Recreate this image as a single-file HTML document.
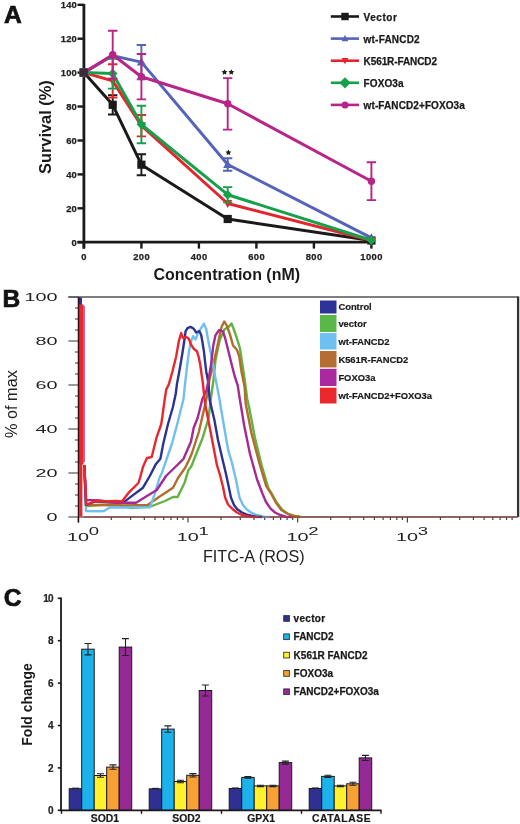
<!DOCTYPE html>
<html><head><meta charset="utf-8"><title>Figure</title>
<style>html,body{margin:0;padding:0;background:#fff;} body{width:520px;height:824px;overflow:hidden;font-family:"Liberation Sans",sans-serif;} svg{display:block;will-change:transform;filter:blur(0.25px);}</style>
</head><body>
<svg width="520" height="824" viewBox="0 0 520 824"><text x="3.9" y="22.9" font-family="Liberation Sans, sans-serif" font-weight="bold" font-size="24.6" fill="#111" stroke="#111" stroke-width="0.7">A</text>
<text transform="translate(50.6,127.1) rotate(-90)" text-anchor="middle" font-family="Liberation Sans, sans-serif" font-weight="bold" font-size="16.4" fill="#1a1a1a">Survival (%)</text>
<line x1="83.9" y1="4" x2="83.9" y2="248.6" stroke="#1a1a1a" stroke-width="2.8"/>
<line x1="77.5" y1="242.2" x2="372.9" y2="242.2" stroke="#1a1a1a" stroke-width="2.8"/>
<line x1="77.5" y1="242.2" x2="83.9" y2="242.2" stroke="#1a1a1a" stroke-width="2.4"/>
<text x="76.8" y="245.5" text-anchor="end" font-family="Liberation Sans, sans-serif" font-weight="bold" font-size="9.4" letter-spacing="0.1" fill="#222" stroke="#222" stroke-width="0.25">0</text>
<line x1="77.5" y1="208.3" x2="83.9" y2="208.3" stroke="#1a1a1a" stroke-width="2.4"/>
<text x="76.8" y="211.6" text-anchor="end" font-family="Liberation Sans, sans-serif" font-weight="bold" font-size="9.4" letter-spacing="0.1" fill="#222" stroke="#222" stroke-width="0.25">20</text>
<line x1="77.5" y1="174.4" x2="83.9" y2="174.4" stroke="#1a1a1a" stroke-width="2.4"/>
<text x="76.8" y="177.7" text-anchor="end" font-family="Liberation Sans, sans-serif" font-weight="bold" font-size="9.4" letter-spacing="0.1" fill="#222" stroke="#222" stroke-width="0.25">40</text>
<line x1="77.5" y1="140.5" x2="83.9" y2="140.5" stroke="#1a1a1a" stroke-width="2.4"/>
<text x="76.8" y="143.8" text-anchor="end" font-family="Liberation Sans, sans-serif" font-weight="bold" font-size="9.4" letter-spacing="0.1" fill="#222" stroke="#222" stroke-width="0.25">60</text>
<line x1="77.5" y1="106.5" x2="83.9" y2="106.5" stroke="#1a1a1a" stroke-width="2.4"/>
<text x="76.8" y="109.8" text-anchor="end" font-family="Liberation Sans, sans-serif" font-weight="bold" font-size="9.4" letter-spacing="0.1" fill="#222" stroke="#222" stroke-width="0.25">80</text>
<line x1="77.5" y1="72.6" x2="83.9" y2="72.6" stroke="#1a1a1a" stroke-width="2.4"/>
<text x="76.8" y="75.9" text-anchor="end" font-family="Liberation Sans, sans-serif" font-weight="bold" font-size="9.4" letter-spacing="0.1" fill="#222" stroke="#222" stroke-width="0.25">100</text>
<line x1="77.5" y1="38.7" x2="83.9" y2="38.7" stroke="#1a1a1a" stroke-width="2.4"/>
<text x="76.8" y="42.0" text-anchor="end" font-family="Liberation Sans, sans-serif" font-weight="bold" font-size="9.4" letter-spacing="0.1" fill="#222" stroke="#222" stroke-width="0.25">120</text>
<line x1="77.5" y1="4.8" x2="83.9" y2="4.8" stroke="#1a1a1a" stroke-width="2.4"/>
<text x="76.8" y="8.1" text-anchor="end" font-family="Liberation Sans, sans-serif" font-weight="bold" font-size="9.4" letter-spacing="0.1" fill="#222" stroke="#222" stroke-width="0.25">140</text>
<line x1="83.9" y1="242.2" x2="83.9" y2="248.6" stroke="#1a1a1a" stroke-width="2.4"/>
<text x="84.1" y="259.5" text-anchor="middle" font-family="Liberation Sans, sans-serif" font-weight="bold" font-size="9.4" letter-spacing="0.4" fill="#222" stroke="#222" stroke-width="0.25">0</text>
<line x1="141.4" y1="242.2" x2="141.4" y2="248.6" stroke="#1a1a1a" stroke-width="2.4"/>
<text x="141.6" y="259.5" text-anchor="middle" font-family="Liberation Sans, sans-serif" font-weight="bold" font-size="9.4" letter-spacing="0.4" fill="#222" stroke="#222" stroke-width="0.25">200</text>
<line x1="198.9" y1="242.2" x2="198.9" y2="248.6" stroke="#1a1a1a" stroke-width="2.4"/>
<text x="199.1" y="259.5" text-anchor="middle" font-family="Liberation Sans, sans-serif" font-weight="bold" font-size="9.4" letter-spacing="0.4" fill="#222" stroke="#222" stroke-width="0.25">400</text>
<line x1="256.4" y1="242.2" x2="256.4" y2="248.6" stroke="#1a1a1a" stroke-width="2.4"/>
<text x="256.6" y="259.5" text-anchor="middle" font-family="Liberation Sans, sans-serif" font-weight="bold" font-size="9.4" letter-spacing="0.4" fill="#222" stroke="#222" stroke-width="0.25">600</text>
<line x1="313.9" y1="242.2" x2="313.9" y2="248.6" stroke="#1a1a1a" stroke-width="2.4"/>
<text x="314.1" y="259.5" text-anchor="middle" font-family="Liberation Sans, sans-serif" font-weight="bold" font-size="9.4" letter-spacing="0.4" fill="#222" stroke="#222" stroke-width="0.25">800</text>
<line x1="371.4" y1="242.2" x2="371.4" y2="248.6" stroke="#1a1a1a" stroke-width="2.4"/>
<text x="371.6" y="259.5" text-anchor="middle" font-family="Liberation Sans, sans-serif" font-weight="bold" font-size="9.4" letter-spacing="0.4" fill="#222" stroke="#222" stroke-width="0.25">1000</text>
<text x="226.8" y="280.2" text-anchor="middle" font-family="Liberation Sans, sans-serif" font-weight="bold" font-size="16" fill="#1a1a1a">Concentration (nM)</text>
<polyline points="83.9,72.6 112.7,104.8 141.4,164.7 227.7,219.0 371.4,240.5" fill="none" stroke="#1a1a1a" stroke-width="3.0" stroke-linejoin="round"/>
<path d="M112.7,95.2V114.5M108.0,95.2H117.4M108.0,114.5H117.4" stroke="#1a1a1a" stroke-width="1.9" fill="none"/>
<path d="M141.4,154.2V175.2M136.7,154.2H146.1M136.7,175.2H146.1" stroke="#1a1a1a" stroke-width="1.9" fill="none"/>
<rect x="79.8" y="68.5" width="8.2" height="8.2" fill="#1a1a1a"/>
<rect x="108.6" y="100.7" width="8.2" height="8.2" fill="#1a1a1a"/>
<rect x="137.3" y="160.6" width="8.2" height="8.2" fill="#1a1a1a"/>
<rect x="223.6" y="214.9" width="8.2" height="8.2" fill="#1a1a1a"/>
<rect x="367.3" y="236.4" width="8.2" height="8.2" fill="#1a1a1a"/>
<polyline points="83.9,72.6 112.7,55.7 141.4,62.1 227.7,164.5 371.4,237.8" fill="none" stroke="#5563b8" stroke-width="3.0" stroke-linejoin="round"/>
<path d="M141.4,45.0V79.2M136.7,45.0H146.1M136.7,79.2H146.1" stroke="#5563b8" stroke-width="1.9" fill="none"/>
<path d="M227.7,158.3V170.8M223.0,158.3H232.3M223.0,170.8H232.3" stroke="#5563b8" stroke-width="1.9" fill="none"/>
<path d="M83.9,68.0 L88.5,76.1 L79.3,76.1Z" fill="#5563b8"/>
<path d="M112.7,51.1 L117.2,59.1 L108.1,59.1Z" fill="#5563b8"/>
<path d="M141.4,57.5 L146.0,65.6 L136.8,65.6Z" fill="#5563b8"/>
<path d="M227.7,159.9 L232.2,168.0 L223.1,168.0Z" fill="#5563b8"/>
<path d="M371.4,233.2 L376.0,241.2 L366.8,241.2Z" fill="#5563b8"/>
<polyline points="83.9,72.6 112.7,80.9 141.4,125.7 227.7,203.5 371.4,240.5" fill="none" stroke="#e4262c" stroke-width="3.0" stroke-linejoin="round"/>
<path d="M112.7,64.3V97.6M108.0,64.3H117.4M108.0,97.6H117.4" stroke="#e4262c" stroke-width="1.9" fill="none"/>
<path d="M141.4,115.0V136.4M136.7,115.0H146.1M136.7,136.4H146.1" stroke="#e4262c" stroke-width="1.9" fill="none"/>
<path d="M83.9,77.2 L88.5,69.2 L79.3,69.2Z" fill="#e4262c"/>
<path d="M112.7,85.5 L117.2,77.5 L108.1,77.5Z" fill="#e4262c"/>
<path d="M141.4,130.3 L146.0,122.3 L136.8,122.3Z" fill="#e4262c"/>
<path d="M227.7,208.1 L232.2,200.1 L223.1,200.1Z" fill="#e4262c"/>
<path d="M371.4,245.1 L376.0,237.1 L366.8,237.1Z" fill="#e4262c"/>
<polyline points="83.9,72.6 112.7,73.6 141.4,124.5 227.7,194.7 371.4,240.2" fill="none" stroke="#17a04a" stroke-width="3.0" stroke-linejoin="round"/>
<path d="M112.7,58.7V88.6M108.0,58.7H117.4M108.0,88.6H117.4" stroke="#17a04a" stroke-width="1.9" fill="none"/>
<path d="M141.4,105.7V143.3M136.7,105.7H146.1M136.7,143.3H146.1" stroke="#17a04a" stroke-width="1.9" fill="none"/>
<path d="M227.7,187.1V202.4M223.0,187.1H232.3M223.0,202.4H232.3" stroke="#17a04a" stroke-width="1.9" fill="none"/>
<path d="M83.9,67.8 L88.7,72.6 L83.9,77.4 L79.1,72.6Z" fill="#17a04a"/>
<path d="M112.7,68.8 L117.5,73.6 L112.7,78.4 L107.9,73.6Z" fill="#17a04a"/>
<path d="M141.4,119.7 L146.2,124.5 L141.4,129.3 L136.6,124.5Z" fill="#17a04a"/>
<path d="M227.7,189.9 L232.5,194.7 L227.7,199.5 L222.8,194.7Z" fill="#17a04a"/>
<path d="M371.4,235.4 L376.2,240.2 L371.4,245.0 L366.6,240.2Z" fill="#17a04a"/>
<polyline points="83.9,72.6 112.7,54.8 141.4,76.7 227.7,103.8 371.4,181.2" fill="none" stroke="#b82488" stroke-width="3.0" stroke-linejoin="round"/>
<path d="M112.7,30.7V78.9M108.0,30.7H117.4M108.0,78.9H117.4" stroke="#b82488" stroke-width="1.9" fill="none"/>
<path d="M141.4,54.0V99.4M136.7,54.0H146.1M136.7,99.4H146.1" stroke="#b82488" stroke-width="1.9" fill="none"/>
<path d="M227.7,78.1V129.6M223.0,78.1H232.3M223.0,129.6H232.3" stroke="#b82488" stroke-width="1.9" fill="none"/>
<path d="M371.4,162.2V200.1M366.7,162.2H376.1M366.7,200.1H376.1" stroke="#b82488" stroke-width="1.9" fill="none"/>
<circle cx="83.9" cy="72.6" r="3.7" fill="#b82488"/>
<circle cx="112.7" cy="54.8" r="3.7" fill="#b82488"/>
<circle cx="141.4" cy="76.7" r="3.7" fill="#b82488"/>
<circle cx="227.7" cy="103.8" r="3.7" fill="#b82488"/>
<circle cx="371.4" cy="181.2" r="3.7" fill="#b82488"/>
<rect x="79.4" y="68.4" width="8.4" height="8.2" fill="#3d2a3c"/>
<polygon points="224.50,69.20 225.41,71.05 227.45,71.34 225.97,72.78 226.32,74.81 224.50,73.85 222.68,74.81 223.03,72.78 221.55,71.34 223.59,71.05" fill="#1e1e1e"/>
<polygon points="231.30,69.20 232.21,71.05 234.25,71.34 232.77,72.78 233.12,74.81 231.30,73.85 229.48,74.81 229.83,72.78 228.35,71.34 230.39,71.05" fill="#1e1e1e"/>
<polygon points="228.40,149.50 229.31,151.35 231.35,151.64 229.87,153.08 230.22,155.11 228.40,154.15 226.58,155.11 226.93,153.08 225.45,151.64 227.49,151.35" fill="#1e1e1e"/>
<line x1="330.8" y1="16.5" x2="359" y2="16.5" stroke="#1a1a1a" stroke-width="2.6"/>
<rect x="341.3" y="12.8" width="7.4" height="7.4" fill="#1a1a1a"/>
<text x="363.6" y="21.0" font-family="Liberation Sans, sans-serif" font-weight="bold" font-size="10" letter-spacing="0.55" fill="#1a1a1a" stroke="#1a1a1a" stroke-width="0.25">Vector</text>
<line x1="330.8" y1="38.6" x2="359" y2="38.6" stroke="#5563b8" stroke-width="2.6"/>
<path d="M345.0,35.1 L348.4,41.2 L341.6,41.2Z" fill="#5563b8"/>
<text x="363.6" y="43.1" font-family="Liberation Sans, sans-serif" font-weight="bold" font-size="10" letter-spacing="0.2" fill="#1a1a1a" stroke="#1a1a1a" stroke-width="0.25">wt-FANCD2</text>
<line x1="330.8" y1="60.7" x2="359" y2="60.7" stroke="#e4262c" stroke-width="2.6"/>
<path d="M345.0,64.2 L348.4,58.1 L341.6,58.1Z" fill="#e4262c"/>
<text x="363.6" y="65.2" font-family="Liberation Sans, sans-serif" font-weight="bold" font-size="10" letter-spacing="-0.1" fill="#1a1a1a" stroke="#1a1a1a" stroke-width="0.25">K561R-FANCD2</text>
<line x1="330.8" y1="82.8" x2="359" y2="82.8" stroke="#17a04a" stroke-width="2.6"/>
<path d="M345.0,77.2 L350.6,82.8 L345.0,88.4 L339.4,82.8Z" fill="#17a04a"/>
<text x="363.6" y="87.3" font-family="Liberation Sans, sans-serif" font-weight="bold" font-size="10" letter-spacing="0.1" fill="#1a1a1a" stroke="#1a1a1a" stroke-width="0.25">FOXO3a</text>
<line x1="330.8" y1="104.9" x2="359" y2="104.9" stroke="#b82488" stroke-width="2.6"/>
<circle cx="345.0" cy="104.9" r="3.5" fill="#b82488"/>
<text x="363.6" y="109.4" font-family="Liberation Sans, sans-serif" font-weight="bold" font-size="10" letter-spacing="0.1" fill="#1a1a1a" stroke="#1a1a1a" stroke-width="0.25">wt-FANCD2+FOXO3a</text>
<text x="2.6" y="307.2" font-family="Liberation Sans, sans-serif" font-weight="bold" font-size="24.6" fill="#111" stroke="#111" stroke-width="0.7">B</text>
<text transform="translate(17.0,404.1) rotate(-90)" text-anchor="middle" font-family="Liberation Sans, sans-serif" font-size="16.3" fill="#222">% of max</text>
<text x="253.8" y="562.3" text-anchor="middle" font-family="Liberation Sans, sans-serif" font-size="16.2" fill="#222">FITC-A (ROS)</text>
<line x1="68.3" y1="297" x2="517.7" y2="297" stroke="#555" stroke-width="1.3"/>
<line x1="518.1" y1="296.4" x2="518.1" y2="517" stroke="#333" stroke-width="2.3"/>
<line x1="78.5" y1="517" x2="517.7" y2="517" stroke="#666" stroke-width="1.3"/>
<line x1="68.4" y1="517.0" x2="78.5" y2="517.0" stroke="#555" stroke-width="1.2"/>
<text transform="translate(57.4,520.8) scale(1.8,1)" text-anchor="end" font-family="Liberation Sans, sans-serif" font-size="11" fill="#222">0</text>
<line x1="75" y1="506.0" x2="78.5" y2="506.0" stroke="#555" stroke-width="1.2"/>
<line x1="75" y1="495.0" x2="78.5" y2="495.0" stroke="#555" stroke-width="1.2"/>
<line x1="75" y1="484.0" x2="78.5" y2="484.0" stroke="#555" stroke-width="1.2"/>
<line x1="68.4" y1="473.0" x2="78.5" y2="473.0" stroke="#555" stroke-width="1.2"/>
<text transform="translate(57.4,476.8) scale(1.8,1)" text-anchor="end" font-family="Liberation Sans, sans-serif" font-size="11" fill="#222">20</text>
<line x1="75" y1="462.0" x2="78.5" y2="462.0" stroke="#555" stroke-width="1.2"/>
<line x1="75" y1="451.0" x2="78.5" y2="451.0" stroke="#555" stroke-width="1.2"/>
<line x1="75" y1="440.0" x2="78.5" y2="440.0" stroke="#555" stroke-width="1.2"/>
<line x1="68.4" y1="429.0" x2="78.5" y2="429.0" stroke="#555" stroke-width="1.2"/>
<text transform="translate(57.4,432.8) scale(1.8,1)" text-anchor="end" font-family="Liberation Sans, sans-serif" font-size="11" fill="#222">40</text>
<line x1="75" y1="418.0" x2="78.5" y2="418.0" stroke="#555" stroke-width="1.2"/>
<line x1="75" y1="407.0" x2="78.5" y2="407.0" stroke="#555" stroke-width="1.2"/>
<line x1="75" y1="396.0" x2="78.5" y2="396.0" stroke="#555" stroke-width="1.2"/>
<line x1="68.4" y1="385.0" x2="78.5" y2="385.0" stroke="#555" stroke-width="1.2"/>
<text transform="translate(57.4,388.8) scale(1.8,1)" text-anchor="end" font-family="Liberation Sans, sans-serif" font-size="11" fill="#222">60</text>
<line x1="75" y1="374.0" x2="78.5" y2="374.0" stroke="#555" stroke-width="1.2"/>
<line x1="75" y1="363.0" x2="78.5" y2="363.0" stroke="#555" stroke-width="1.2"/>
<line x1="75" y1="352.0" x2="78.5" y2="352.0" stroke="#555" stroke-width="1.2"/>
<line x1="68.4" y1="341.0" x2="78.5" y2="341.0" stroke="#555" stroke-width="1.2"/>
<text transform="translate(57.4,344.8) scale(1.8,1)" text-anchor="end" font-family="Liberation Sans, sans-serif" font-size="11" fill="#222">80</text>
<line x1="75" y1="330.0" x2="78.5" y2="330.0" stroke="#555" stroke-width="1.2"/>
<line x1="75" y1="319.0" x2="78.5" y2="319.0" stroke="#555" stroke-width="1.2"/>
<line x1="75" y1="308.0" x2="78.5" y2="308.0" stroke="#555" stroke-width="1.2"/>
<line x1="68.4" y1="297.0" x2="78.5" y2="297.0" stroke="#555" stroke-width="1.2"/>
<text transform="translate(57.4,300.8) scale(1.8,1)" text-anchor="end" font-family="Liberation Sans, sans-serif" font-size="11" fill="#222">100</text>
<line x1="78.3" y1="517" x2="78.3" y2="522.5" stroke="#444" stroke-width="1.2"/>
<line x1="111.3" y1="517" x2="111.3" y2="520" stroke="#444" stroke-width="1.2"/>
<line x1="130.6" y1="517" x2="130.6" y2="520" stroke="#444" stroke-width="1.2"/>
<line x1="144.3" y1="517" x2="144.3" y2="520" stroke="#444" stroke-width="1.2"/>
<line x1="155.0" y1="517" x2="155.0" y2="520" stroke="#444" stroke-width="1.2"/>
<line x1="163.7" y1="517" x2="163.7" y2="520" stroke="#444" stroke-width="1.2"/>
<line x1="171.0" y1="517" x2="171.0" y2="520" stroke="#444" stroke-width="1.2"/>
<line x1="177.4" y1="517" x2="177.4" y2="520" stroke="#444" stroke-width="1.2"/>
<line x1="183.0" y1="517" x2="183.0" y2="520" stroke="#444" stroke-width="1.2"/>
<text transform="translate(78.0,541.4) scale(1.8,1)" text-anchor="middle" font-family="Liberation Sans, sans-serif" font-size="11" fill="#222">10</text>
<text transform="translate(93.9,534.5) scale(1.8,1)" text-anchor="middle" font-family="Liberation Sans, sans-serif" font-size="10.3" fill="#222">0</text>
<line x1="188.0" y1="517" x2="188.0" y2="522.5" stroke="#444" stroke-width="1.2"/>
<line x1="221.0" y1="517" x2="221.0" y2="520" stroke="#444" stroke-width="1.2"/>
<line x1="240.3" y1="517" x2="240.3" y2="520" stroke="#444" stroke-width="1.2"/>
<line x1="254.0" y1="517" x2="254.0" y2="520" stroke="#444" stroke-width="1.2"/>
<line x1="264.7" y1="517" x2="264.7" y2="520" stroke="#444" stroke-width="1.2"/>
<line x1="273.4" y1="517" x2="273.4" y2="520" stroke="#444" stroke-width="1.2"/>
<line x1="280.7" y1="517" x2="280.7" y2="520" stroke="#444" stroke-width="1.2"/>
<line x1="287.1" y1="517" x2="287.1" y2="520" stroke="#444" stroke-width="1.2"/>
<line x1="292.7" y1="517" x2="292.7" y2="520" stroke="#444" stroke-width="1.2"/>
<text transform="translate(187.7,541.4) scale(1.8,1)" text-anchor="middle" font-family="Liberation Sans, sans-serif" font-size="11" fill="#222">10</text>
<text transform="translate(203.6,534.5) scale(1.8,1)" text-anchor="middle" font-family="Liberation Sans, sans-serif" font-size="10.3" fill="#222">1</text>
<line x1="297.7" y1="517" x2="297.7" y2="522.5" stroke="#444" stroke-width="1.2"/>
<line x1="330.7" y1="517" x2="330.7" y2="520" stroke="#444" stroke-width="1.2"/>
<line x1="350.0" y1="517" x2="350.0" y2="520" stroke="#444" stroke-width="1.2"/>
<line x1="363.7" y1="517" x2="363.7" y2="520" stroke="#444" stroke-width="1.2"/>
<line x1="374.4" y1="517" x2="374.4" y2="520" stroke="#444" stroke-width="1.2"/>
<line x1="383.1" y1="517" x2="383.1" y2="520" stroke="#444" stroke-width="1.2"/>
<line x1="390.4" y1="517" x2="390.4" y2="520" stroke="#444" stroke-width="1.2"/>
<line x1="396.8" y1="517" x2="396.8" y2="520" stroke="#444" stroke-width="1.2"/>
<line x1="402.4" y1="517" x2="402.4" y2="520" stroke="#444" stroke-width="1.2"/>
<text transform="translate(297.4,541.4) scale(1.8,1)" text-anchor="middle" font-family="Liberation Sans, sans-serif" font-size="11" fill="#222">10</text>
<text transform="translate(313.3,534.5) scale(1.8,1)" text-anchor="middle" font-family="Liberation Sans, sans-serif" font-size="10.3" fill="#222">2</text>
<line x1="407.4" y1="517" x2="407.4" y2="522.5" stroke="#444" stroke-width="1.2"/>
<line x1="440.4" y1="517" x2="440.4" y2="520" stroke="#444" stroke-width="1.2"/>
<line x1="459.7" y1="517" x2="459.7" y2="520" stroke="#444" stroke-width="1.2"/>
<line x1="473.4" y1="517" x2="473.4" y2="520" stroke="#444" stroke-width="1.2"/>
<line x1="484.1" y1="517" x2="484.1" y2="520" stroke="#444" stroke-width="1.2"/>
<line x1="492.8" y1="517" x2="492.8" y2="520" stroke="#444" stroke-width="1.2"/>
<line x1="500.1" y1="517" x2="500.1" y2="520" stroke="#444" stroke-width="1.2"/>
<line x1="506.5" y1="517" x2="506.5" y2="520" stroke="#444" stroke-width="1.2"/>
<line x1="512.1" y1="517" x2="512.1" y2="520" stroke="#444" stroke-width="1.2"/>
<text transform="translate(407.1,541.4) scale(1.8,1)" text-anchor="middle" font-family="Liberation Sans, sans-serif" font-size="11" fill="#222">10</text>
<text transform="translate(423.0,534.5) scale(1.8,1)" text-anchor="middle" font-family="Liberation Sans, sans-serif" font-size="10.3" fill="#222">3</text>
<rect x="79.2" y="304.5" width="4.4" height="160" fill="#e8282e"/>
<rect x="79.2" y="304.5" width="3.2" height="212" fill="#e8282e"/>
<line x1="84.1" y1="306" x2="84.1" y2="462" stroke="#c0307a" stroke-width="1.3"/>
<rect x="78.6" y="297.5" width="3.4" height="7.2" fill="#2b3393"/>
<polyline points="84.3,465.0 86.0,506.0 100.0,505.0 115.0,504.0 131.4,508.0 152.0,506.0 165.0,501.0 173.0,497.0 177.6,497.0 184.5,483.0 188.3,470.4 191.5,466.0 195.0,457.0 202.7,437.7 208.5,418.5 210.8,399.0 213.5,380.0 215.4,360.8 218.0,348.0 220.0,339.2 224.6,329.2 228.5,327.0 231.5,323.5 234.6,331.5 237.7,340.8 240.0,348.5 242.3,363.8 244.6,379.2 247.2,399.0 249.2,407.7 254.9,437.7 261.6,465.4 268.5,488.5 272.5,495.0 277.0,503.0 282.5,510.0 288.0,513.8 294.0,516.0 301.0,517.0" fill="none" stroke="#62b244" stroke-width="2.4" stroke-linejoin="round"/>
<polyline points="84.3,465.0 86.0,505.0 100.0,505.0 120.0,505.5 147.6,505.0 159.0,497.0 173.0,487.7 178.0,478.0 185.0,468.0 189.0,460.0 192.0,453.0 198.8,432.0 204.6,407.0 207.7,393.0 209.4,380.0 212.3,368.5 216.2,351.5 219.2,337.7 221.5,327.0 224.3,321.5 227.0,326.0 230.0,334.6 233.0,345.4 237.0,350.0 239.2,356.0 241.5,371.5 244.6,387.0 245.6,403.0 251.4,433.0 259.3,463.0 266.2,486.2 271.2,493.8 275.5,502.0 281.3,510.0 287.0,513.5 293.0,515.8 300.0,517.0" fill="none" stroke="#b06e2c" stroke-width="2.4" stroke-linejoin="round"/>
<polyline points="84.3,465.0 86.0,511.0 100.0,511.3 104.0,511.0 110.0,507.3 130.0,507.5 150.0,507.3 154.5,494.6 159.4,478.0 161.5,473.8 166.0,460.8 172.0,443.5 177.7,422.3 183.5,399.0 185.0,384.4 186.9,367.5 188.8,352.5 190.6,342.5 193.1,336.2 195.6,339.4 198.1,332.5 200.6,328.8 203.8,323.8 206.2,328.8 208.1,340.0 209.2,345.4 212.3,360.8 215.4,377.7 219.2,397.7 221.2,410.0 228.0,449.3 232.0,463.0 236.0,480.0 239.6,497.7 243.0,505.0 246.5,509.2 251.0,512.5 257.0,515.0 264.0,516.6 270.0,517.0" fill="none" stroke="#6fc0ee" stroke-width="2.4" stroke-linejoin="round"/>
<polyline points="84.3,465.0 86.0,505.0 95.0,501.5 110.0,502.0 124.5,501.6 133.7,494.6 143.0,487.7 149.8,476.0 155.6,464.6 160.4,458.8 163.3,443.5 168.0,424.0 172.9,407.0 175.8,393.5 176.9,384.4 180.0,367.5 182.5,352.5 184.4,340.0 185.6,331.2 187.5,328.1 190.6,326.9 193.8,328.8 196.2,332.5 199.4,331.2 201.2,335.0 202.5,342.5 203.9,351.2 205.0,361.2 206.2,371.2 208.3,382.5 209.7,400.0 214.4,420.0 218.0,440.0 222.3,458.5 226.0,474.0 229.0,488.0 231.0,497.7 234.0,505.0 237.3,509.2 242.0,512.5 248.0,515.0 256.0,516.6 262.0,517.0" fill="none" stroke="#2b3393" stroke-width="2.4" stroke-linejoin="round"/>
<polyline points="84.3,465.0 86.0,500.0 100.0,500.4 115.0,502.7 136.0,502.7 145.3,497.0 156.8,490.0 166.0,476.0 175.8,466.5 183.5,458.8 191.0,441.5 193.7,427.7 197.6,418.0 202.5,398.5 206.4,391.0 208.7,379.0 211.0,365.0 213.3,345.4 215.4,335.4 219.2,330.0 223.0,331.5 225.4,339.2 228.5,351.5 231.5,363.8 234.6,376.0 237.7,385.4 239.7,398.5 244.3,426.2 250.0,454.0 257.0,479.3 262.5,493.8 266.0,502.0 270.6,508.6 275.0,512.5 280.0,515.0 286.0,516.6 292.0,517.0" fill="none" stroke="#a42a94" stroke-width="2.4" stroke-linejoin="round"/>
<polyline points="84.3,465.0 86.5,505.0 95.0,501.0 105.0,501.5 115.0,501.0 122.0,501.5 129.0,492.3 138.4,483.0 140.0,478.0 143.0,467.0 144.0,464.6 147.0,458.0 151.7,457.0 156.5,437.7 161.3,424.0 164.2,403.0 166.2,389.6 168.8,384.4 172.5,371.2 176.2,356.2 178.8,341.2 181.2,333.1 183.1,338.1 186.2,336.9 188.8,338.8 191.2,345.0 193.8,348.8 196.9,351.2 198.8,357.5 200.3,365.0 201.5,373.8 202.8,382.5 205.0,403.0 210.8,433.0 217.0,465.4 220.0,475.0 223.0,487.0 225.2,497.7 228.0,504.5 232.7,509.2 237.0,512.5 242.0,515.0 250.0,516.6 258.0,517.0" fill="none" stroke="#e8282e" stroke-width="2.4" stroke-linejoin="round"/>
<line x1="78.5" y1="297" x2="78.5" y2="522.5" stroke="#2a1010" stroke-width="1.5"/>
<line x1="84" y1="517" x2="517.7" y2="517" stroke="#9a3a3a" stroke-width="1.1"/>
<rect x="320" y="300.5" width="16.5" height="13.0" fill="#2d3296"/>
<text x="338.4" y="310.3" font-family="Liberation Sans, sans-serif" font-weight="bold" font-size="9.4" fill="#1a1a1a" stroke="#1a1a1a" stroke-width="0.2">Control</text>
<rect x="320" y="315" width="16.5" height="17.0" fill="#5ab946"/>
<text x="338.4" y="326.8" font-family="Liberation Sans, sans-serif" font-weight="bold" font-size="9.4" fill="#1a1a1a" stroke="#1a1a1a" stroke-width="0.2">vector</text>
<rect x="320" y="333" width="16.5" height="16.5" fill="#6ec0f0"/>
<text x="338.4" y="344.6" font-family="Liberation Sans, sans-serif" font-weight="bold" font-size="9.4" fill="#1a1a1a" stroke="#1a1a1a" stroke-width="0.2">wt-FANCD2</text>
<rect x="320" y="351" width="16.5" height="16.5" fill="#b46e32"/>
<text x="338.4" y="362.6" font-family="Liberation Sans, sans-serif" font-weight="bold" font-size="9.4" fill="#1a1a1a" stroke="#1a1a1a" stroke-width="0.2">K561R-FANCD2</text>
<rect x="320" y="368.8" width="16.5" height="17.2" fill="#aa28a0"/>
<text x="338.4" y="380.7" font-family="Liberation Sans, sans-serif" font-weight="bold" font-size="9.4" fill="#1a1a1a" stroke="#1a1a1a" stroke-width="0.2">FOXO3a</text>
<rect x="320" y="387.7" width="16.5" height="15.8" fill="#eb282d"/>
<text x="338.4" y="398.9" font-family="Liberation Sans, sans-serif" font-weight="bold" font-size="9.4" fill="#1a1a1a" stroke="#1a1a1a" stroke-width="0.2">wt-FANCD2+FOXO3a</text>
<text x="3.8" y="606.2" font-family="Liberation Sans, sans-serif" font-weight="bold" font-size="24.6" fill="#111" stroke="#111" stroke-width="0.7">C</text>
<text transform="translate(32.2,704.5) rotate(-90)" text-anchor="middle" font-family="Liberation Sans, sans-serif" font-weight="bold" font-size="14" fill="#1a1a1a">Fold change</text>
<rect x="69.20" y="788.7" width="12.5" height="21.6" fill="#2e3192" stroke="#1a1a1a" stroke-width="1"/>
<rect x="81.70" y="649.2" width="12.5" height="161.1" fill="#1cb3ec" stroke="#1a1a1a" stroke-width="1"/>
<rect x="94.20" y="775.5" width="12.5" height="34.8" fill="#fff22d" stroke="#1a1a1a" stroke-width="1"/>
<rect x="106.70" y="767.1" width="12.5" height="43.2" fill="#f7a033" stroke="#1a1a1a" stroke-width="1"/>
<rect x="119.20" y="647.1" width="12.5" height="163.2" fill="#952a96" stroke="#1a1a1a" stroke-width="1"/>
<path d="M72.0,788.2H79.0" stroke="#222" stroke-width="1.1"/>
<path d="M88.0,643.5V654.9M84.5,643.5H91.5M84.5,654.9H91.5" stroke="#222" stroke-width="1.1" fill="none"/>
<path d="M100.5,773.8V777.2M97.0,773.8H104.0M97.0,777.2H104.0" stroke="#222" stroke-width="1.1" fill="none"/>
<path d="M113.0,764.9V769.2M109.5,764.9H116.5M109.5,769.2H116.5" stroke="#222" stroke-width="1.1" fill="none"/>
<path d="M125.5,638.6V655.5M122.0,638.6H128.9M122.0,655.5H128.9" stroke="#222" stroke-width="1.1" fill="none"/>
<text x="104.90" y="821.9" text-anchor="middle" font-family="Liberation Sans, sans-serif" font-weight="bold" font-size="10.4" letter-spacing="0" fill="#1a1a1a" stroke="#1a1a1a" stroke-width="0.2">SOD1</text>
<rect x="149.20" y="788.9" width="12.5" height="21.4" fill="#2e3192" stroke="#1a1a1a" stroke-width="1"/>
<rect x="161.70" y="729.1" width="12.5" height="81.2" fill="#1cb3ec" stroke="#1a1a1a" stroke-width="1"/>
<rect x="174.20" y="781.5" width="12.5" height="28.8" fill="#fff22d" stroke="#1a1a1a" stroke-width="1"/>
<rect x="186.70" y="775.3" width="12.5" height="35.0" fill="#f7a033" stroke="#1a1a1a" stroke-width="1"/>
<rect x="199.20" y="690.5" width="12.5" height="119.8" fill="#952a96" stroke="#1a1a1a" stroke-width="1"/>
<path d="M151.9,788.4H158.9" stroke="#222" stroke-width="1.1"/>
<path d="M167.9,725.9V732.3M164.4,725.9H171.4M164.4,732.3H171.4" stroke="#222" stroke-width="1.1" fill="none"/>
<path d="M180.4,780.2V782.7M176.9,780.2H183.9M176.9,782.7H183.9" stroke="#222" stroke-width="1.1" fill="none"/>
<path d="M192.9,773.6V777.0M189.4,773.6H196.4M189.4,777.0H196.4" stroke="#222" stroke-width="1.1" fill="none"/>
<path d="M205.4,685.0V696.0M201.9,685.0H208.9M201.9,696.0H208.9" stroke="#222" stroke-width="1.1" fill="none"/>
<text x="186.40" y="821.9" text-anchor="middle" font-family="Liberation Sans, sans-serif" font-weight="bold" font-size="10.4" letter-spacing="0" fill="#1a1a1a" stroke="#1a1a1a" stroke-width="0.2">SOD2</text>
<rect x="229.20" y="788.5" width="12.5" height="21.8" fill="#2e3192" stroke="#1a1a1a" stroke-width="1"/>
<rect x="241.70" y="777.4" width="12.5" height="32.9" fill="#1cb3ec" stroke="#1a1a1a" stroke-width="1"/>
<rect x="254.20" y="785.9" width="12.5" height="24.4" fill="#fff22d" stroke="#1a1a1a" stroke-width="1"/>
<rect x="266.70" y="785.9" width="12.5" height="24.4" fill="#f7a033" stroke="#1a1a1a" stroke-width="1"/>
<rect x="279.20" y="762.6" width="12.5" height="47.7" fill="#952a96" stroke="#1a1a1a" stroke-width="1"/>
<path d="M231.9,788.0H238.9" stroke="#222" stroke-width="1.1"/>
<path d="M247.9,776.6V778.3M244.4,776.6H251.4M244.4,778.3H251.4" stroke="#222" stroke-width="1.1" fill="none"/>
<path d="M260.4,785.3V786.6M256.9,785.3H263.9M256.9,786.6H263.9" stroke="#222" stroke-width="1.1" fill="none"/>
<path d="M272.9,785.3V786.6M269.4,785.3H276.4M269.4,786.6H276.4" stroke="#222" stroke-width="1.1" fill="none"/>
<path d="M285.4,761.1V764.1M281.9,761.1H288.9M281.9,764.1H288.9" stroke="#222" stroke-width="1.1" fill="none"/>
<text x="261.10" y="821.9" text-anchor="middle" font-family="Liberation Sans, sans-serif" font-weight="bold" font-size="10.4" letter-spacing="0" fill="#1a1a1a" stroke="#1a1a1a" stroke-width="0.2">GPX1</text>
<rect x="309.20" y="788.5" width="12.5" height="21.8" fill="#2e3192" stroke="#1a1a1a" stroke-width="1"/>
<rect x="321.70" y="776.4" width="12.5" height="33.9" fill="#1cb3ec" stroke="#1a1a1a" stroke-width="1"/>
<rect x="334.20" y="785.9" width="12.5" height="24.4" fill="#fff22d" stroke="#1a1a1a" stroke-width="1"/>
<rect x="346.70" y="783.8" width="12.5" height="26.5" fill="#f7a033" stroke="#1a1a1a" stroke-width="1"/>
<rect x="359.20" y="757.9" width="12.5" height="52.4" fill="#952a96" stroke="#1a1a1a" stroke-width="1"/>
<path d="M311.9,788.0H318.9" stroke="#222" stroke-width="1.1"/>
<path d="M327.9,775.3V777.4M324.4,775.3H331.4M324.4,777.4H331.4" stroke="#222" stroke-width="1.1" fill="none"/>
<path d="M340.4,785.3V786.6M336.9,785.3H343.9M336.9,786.6H343.9" stroke="#222" stroke-width="1.1" fill="none"/>
<path d="M352.9,782.3V785.3M349.4,782.3H356.4M349.4,785.3H356.4" stroke="#222" stroke-width="1.1" fill="none"/>
<path d="M365.4,755.4V760.5M361.9,755.4H368.9M361.9,760.5H368.9" stroke="#222" stroke-width="1.1" fill="none"/>
<text x="341.55" y="821.9" text-anchor="middle" font-family="Liberation Sans, sans-serif" font-weight="bold" font-size="10.4" letter-spacing="0.5" fill="#1a1a1a" stroke="#1a1a1a" stroke-width="0.2">CATALASE</text>
<line x1="61" y1="597.5" x2="61" y2="811.0999999999999" stroke="#1a1a1a" stroke-width="1.8"/>
<line x1="60" y1="810.3" x2="381.5" y2="810.3" stroke="#1a1a1a" stroke-width="1.8"/>
<line x1="57.8" y1="810.3" x2="61" y2="810.3" stroke="#1a1a1a" stroke-width="1.6"/>
<text x="53.6" y="813.9" text-anchor="end" font-family="Liberation Sans, sans-serif" font-weight="bold" font-size="10" letter-spacing="0" fill="#222" stroke="#222" stroke-width="0.2">0</text>
<line x1="57.8" y1="767.9" x2="61" y2="767.9" stroke="#1a1a1a" stroke-width="1.6"/>
<text x="53.6" y="771.5" text-anchor="end" font-family="Liberation Sans, sans-serif" font-weight="bold" font-size="10" letter-spacing="0" fill="#222" stroke="#222" stroke-width="0.2">2</text>
<line x1="57.8" y1="725.5" x2="61" y2="725.5" stroke="#1a1a1a" stroke-width="1.6"/>
<text x="53.6" y="729.1" text-anchor="end" font-family="Liberation Sans, sans-serif" font-weight="bold" font-size="10" letter-spacing="0" fill="#222" stroke="#222" stroke-width="0.2">4</text>
<line x1="57.8" y1="683.1" x2="61" y2="683.1" stroke="#1a1a1a" stroke-width="1.6"/>
<text x="53.6" y="686.7" text-anchor="end" font-family="Liberation Sans, sans-serif" font-weight="bold" font-size="10" letter-spacing="0" fill="#222" stroke="#222" stroke-width="0.2">6</text>
<line x1="57.8" y1="640.7" x2="61" y2="640.7" stroke="#1a1a1a" stroke-width="1.6"/>
<text x="53.6" y="644.3" text-anchor="end" font-family="Liberation Sans, sans-serif" font-weight="bold" font-size="10" letter-spacing="0" fill="#222" stroke="#222" stroke-width="0.2">8</text>
<line x1="57.8" y1="598.3" x2="61" y2="598.3" stroke="#1a1a1a" stroke-width="1.6"/>
<text x="52.9" y="601.9" text-anchor="end" font-family="Liberation Sans, sans-serif" font-weight="bold" font-size="10" letter-spacing="-0.7" fill="#222" stroke="#222" stroke-width="0.2">10</text>
<line x1="61.5" y1="810.3" x2="61.5" y2="813.8" stroke="#1a1a1a" stroke-width="1.4"/>
<line x1="141.5" y1="810.3" x2="141.5" y2="813.8" stroke="#1a1a1a" stroke-width="1.4"/>
<line x1="221.5" y1="810.3" x2="221.5" y2="813.8" stroke="#1a1a1a" stroke-width="1.4"/>
<line x1="301.5" y1="810.3" x2="301.5" y2="813.8" stroke="#1a1a1a" stroke-width="1.4"/>
<line x1="381" y1="810.3" x2="381" y2="813.8" stroke="#1a1a1a" stroke-width="1.4"/>
<rect x="283.7" y="615.6" width="5.7" height="5.7" fill="#2e3192" stroke="#333" stroke-width="0.9"/>
<text x="293.6" y="622.1" font-family="Liberation Sans, sans-serif" font-weight="bold" font-size="10" letter-spacing="0.3" fill="#1a1a1a" stroke="#1a1a1a" stroke-width="0.25">vector</text>
<rect x="283.7" y="633.9" width="5.7" height="5.7" fill="#1cb3ec" stroke="#333" stroke-width="0.9"/>
<text x="293.6" y="640.4" font-family="Liberation Sans, sans-serif" font-weight="bold" font-size="10" letter-spacing="0" fill="#1a1a1a" stroke="#1a1a1a" stroke-width="0.25">FANCD2</text>
<rect x="283.7" y="652.3" width="5.7" height="5.7" fill="#fff22d" stroke="#333" stroke-width="0.9"/>
<text x="293.6" y="658.8" font-family="Liberation Sans, sans-serif" font-weight="bold" font-size="10" letter-spacing="0" fill="#1a1a1a" stroke="#1a1a1a" stroke-width="0.25">K561R FANCD2</text>
<rect x="283.7" y="670.6" width="5.7" height="5.7" fill="#f7a033" stroke="#333" stroke-width="0.9"/>
<text x="293.6" y="677.1" font-family="Liberation Sans, sans-serif" font-weight="bold" font-size="10" letter-spacing="0" fill="#1a1a1a" stroke="#1a1a1a" stroke-width="0.25">FOXO3a</text>
<rect x="283.7" y="688.9" width="5.7" height="5.7" fill="#952a96" stroke="#333" stroke-width="0.9"/>
<text x="293.6" y="695.4" font-family="Liberation Sans, sans-serif" font-weight="bold" font-size="10" letter-spacing="0" fill="#1a1a1a" stroke="#1a1a1a" stroke-width="0.25">FANCD2+FOXO3a</text></svg>
</body></html>
